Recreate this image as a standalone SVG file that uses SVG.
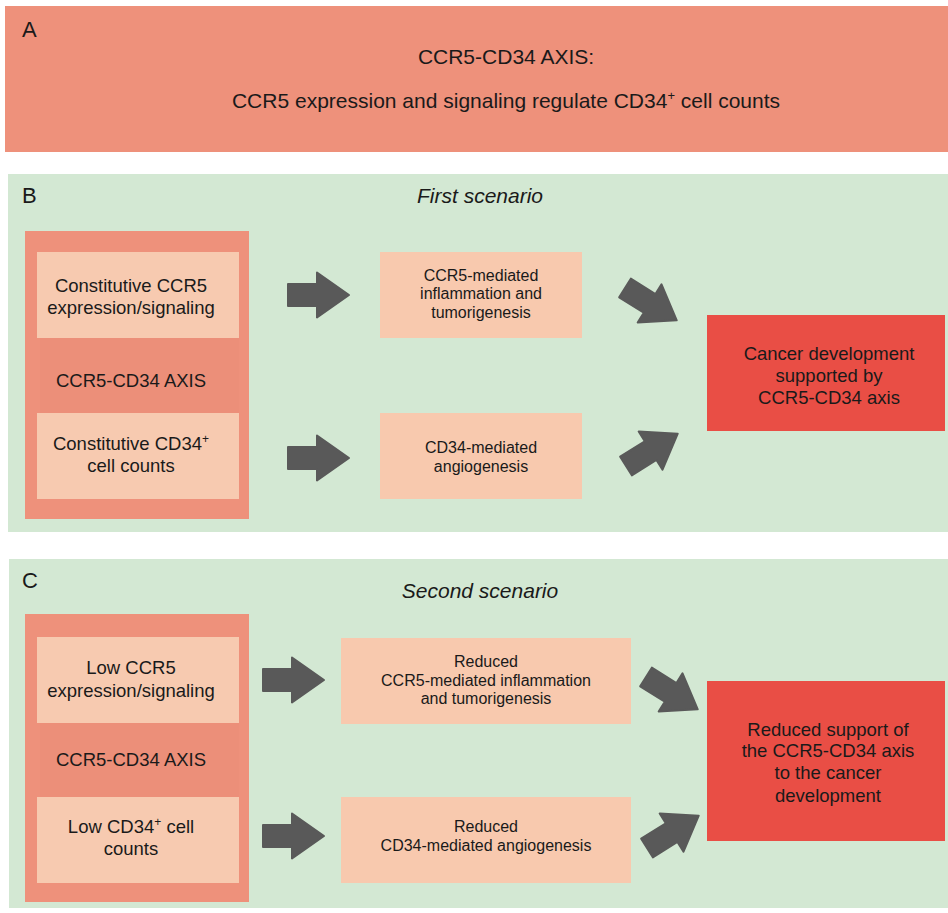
<svg xmlns="http://www.w3.org/2000/svg" xmlns:xlink="http://www.w3.org/1999/xlink" width="948" height="913" viewBox="0 0 948 913">
<style>
text{font-family:"Liberation Sans",Arial,sans-serif;fill:#1a1a1a;}
.lbl{font-size:22px;}
.ttl{font-size:21px;text-anchor:middle;}
.scn{font-size:21px;font-style:italic;text-anchor:middle;}
.axis{fill:#EE917B;}
.axisband{fill:#EC8F79;}
.inner{fill:#F7CAB0;}
.mid{fill:#F8C9AE;}
.red{fill:#E94E45;}
.t18{font-size:18.5px;text-anchor:middle;}
.t16{font-size:16px;text-anchor:middle;}
.panel{fill:#D3E8D3;}
</style>
<defs>
<path id="arr" d="M0,-11 H29 V-22.5 L61,0 L29,22.5 V11 H0 Z" fill="#595959" stroke="#595959" stroke-width="2" stroke-linejoin="round"/>
</defs>
<rect width="948" height="913" fill="#ffffff"/>

<g id="panelA">
<rect x="5" y="6" width="943" height="146" class="axis"/>
<text x="22" y="37" class="lbl">A</text>
<text x="506" y="64" class="ttl">CCR5-CD34 AXIS:</text>
<text x="506" y="108" class="ttl">CCR5 expression and signaling regulate CD34<tspan dy="-8" font-size="13">+</tspan><tspan dy="8"> cell counts</tspan></text>
</g>

<g id="panelB">
<rect x="8" y="174" width="940" height="358" class="panel"/>
<text x="22" y="203" class="lbl">B</text>
<text x="480" y="203" class="scn">First scenario</text>
</g>

<g id="B_axis">
<rect x="25" y="231" width="224" height="288" class="axis"/>
<rect x="40" y="338" width="199" height="75" class="axisband"/>
<text x="131" y="387" class="t18">CCR5-CD34 AXIS</text>
</g>
<g id="B_ccr5">
<rect x="37" y="252" width="202" height="86" class="inner"/>
<text x="131" y="292" class="t18">Constitutive CCR5</text>
<text x="131" y="314" class="t18">expression/signaling</text>
</g>
<g id="B_cd34">
<rect x="37" y="413" width="202" height="86" class="inner"/>
<text x="131" y="450" class="t18">Constitutive CD34<tspan dy="-7" font-size="12">+</tspan></text>
<text x="131" y="472" class="t18">cell counts</text>
</g>
<g id="B_infl">
<rect x="380" y="252" width="202" height="86" class="mid"/>
<text x="481" y="281" class="t16">CCR5-mediated</text>
<text x="481" y="299" class="t16">inflammation and</text>
<text x="481" y="318" class="t16">tumorigenesis</text>
</g>
<g id="B_angio">
<rect x="380" y="413" width="202" height="86" class="mid"/>
<text x="481" y="453" class="t16">CD34-mediated</text>
<text x="481" y="472" class="t16">angiogenesis</text>
</g>
<g id="B_cancer">
<rect x="707" y="315" width="238" height="116" class="red"/>
<text x="829" y="360" class="t18">Cancer development</text>
<text x="829" y="382" class="t18">supported by</text>
<text x="829" y="404" class="t18">CCR5-CD34 axis</text>
</g>

<g id="panelC">
<rect x="9" y="559" width="939" height="349" class="panel"/>
<text x="22" y="588" class="lbl">C</text>
<text x="480" y="598" class="scn">Second scenario</text>
</g>

<g id="C_axis">
<rect x="25" y="614" width="224" height="288" class="axis"/>
<rect x="40" y="723" width="199" height="74" class="axisband"/>
<text x="131" y="766" class="t18">CCR5-CD34 AXIS</text>
</g>
<g id="C_ccr5">
<rect x="37" y="637" width="202" height="86" class="inner"/>
<text x="131" y="674" class="t18">Low CCR5</text>
<text x="131" y="697" class="t18">expression/signaling</text>
</g>
<g id="C_cd34">
<rect x="37" y="797" width="202" height="86" class="inner"/>
<text x="131" y="833" class="t18">Low CD34<tspan dy="-7" font-size="12">+</tspan><tspan dy="7"> cell</tspan></text>
<text x="131" y="855" class="t18">counts</text>
</g>
<g id="C_infl">
<rect x="341" y="638" width="290" height="86" class="mid"/>
<text x="486" y="667" class="t16">Reduced</text>
<text x="486" y="686" class="t16">CCR5-mediated inflammation</text>
<text x="486" y="704" class="t16">and tumorigenesis</text>
</g>
<g id="C_angio">
<rect x="341" y="797" width="290" height="86" class="mid"/>
<text x="486" y="832" class="t16">Reduced</text>
<text x="486" y="851" class="t16">CD34-mediated angiogenesis</text>
</g>
<g id="C_cancer">
<rect x="707" y="681" width="238" height="160" class="red"/>
<text x="828" y="736" class="t18">Reduced support of</text>
<text x="828" y="757" class="t18">the CCR5-CD34 axis</text>
<text x="828" y="779" class="t18">to the cancer</text>
<text x="828" y="802" class="t18">development</text>
</g>

<g id="connectors">
<use xlink:href="#arr" transform="translate(288,295)"/>
<use xlink:href="#arr" transform="translate(288,458)"/>
<use xlink:href="#arr" transform="translate(625,288) rotate(32)"/>
<use xlink:href="#arr" transform="translate(626,466) rotate(-32)"/>
<use xlink:href="#arr" transform="translate(263,680)"/>
<use xlink:href="#arr" transform="translate(263,836)"/>
<use xlink:href="#arr" transform="translate(646,677) rotate(32)"/>
<use xlink:href="#arr" transform="translate(647,848) rotate(-32)"/>
</g>
</svg>
